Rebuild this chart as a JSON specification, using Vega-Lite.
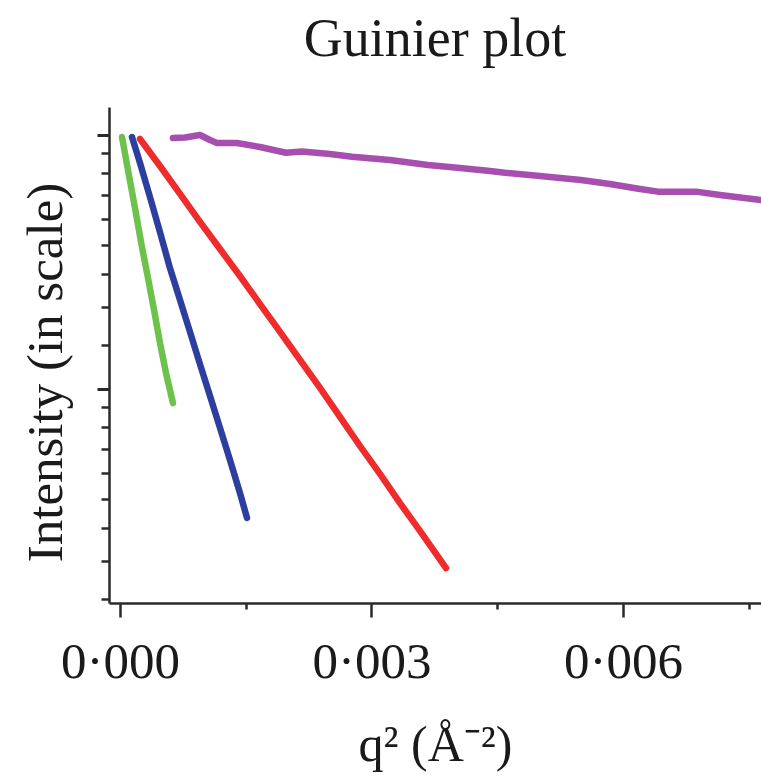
{
  "$schema": "https://vega.github.io/schema/vega-lite/v6.json",
  "width": 652,
  "height": 496,
  "autosize": {"type": "none"},
  "padding": {"left": 109, "top": 107, "right": 0, "bottom": 180},
  "background": "white",
  "config": {"view": {"stroke": null}},
  "title": {
    "text": "Guinier plot",
    "font": "Liberation Serif",
    "fontSize": 54,
    "fontWeight": "normal",
    "color": "#1a1a1a",
    "anchor": "middle",
    "offset": 40
  },
  "data": {
    "values": [
      {"series": "green", "q2": 0.0000239, "intensity": 2.697},
      {"series": "green", "q2": 0.0000954, "intensity": 2.368},
      {"series": "green", "q2": 0.000179, "intensity": 2.039},
      {"series": "green", "q2": 0.000262, "intensity": 1.749},
      {"series": "green", "q2": 0.000334, "intensity": 1.548},
      {"series": "green", "q2": 0.000406, "intensity": 1.365},
      {"series": "green", "q2": 0.000477, "intensity": 1.199},
      {"series": "green", "q2": 0.000549, "intensity": 1.065},
      {"series": "green", "q2": 0.000632, "intensity": 0.946},

      {"series": "blue", "q2": 0.000143, "intensity": 2.697},
      {"series": "blue", "q2": 0.000239, "intensity": 2.435},
      {"series": "blue", "q2": 0.000358, "intensity": 2.129},
      {"series": "blue", "q2": 0.000477, "intensity": 1.855},
      {"series": "blue", "q2": 0.000596, "intensity": 1.610},
      {"series": "blue", "q2": 0.000716, "intensity": 1.420},
      {"series": "blue", "q2": 0.000835, "intensity": 1.252},
      {"series": "blue", "q2": 0.000954, "intensity": 1.103},
      {"series": "blue", "q2": 0.001074, "intensity": 0.973},
      {"series": "blue", "q2": 0.001193, "intensity": 0.858},
      {"series": "blue", "q2": 0.001312, "intensity": 0.756},
      {"series": "blue", "q2": 0.001431, "intensity": 0.664},
      {"series": "blue", "q2": 0.001515, "intensity": 0.602},

      {"series": "red", "q2": 0.000239, "intensity": 2.676},
      {"series": "red", "q2": 0.000477, "intensity": 2.406},
      {"series": "red", "q2": 0.000716, "intensity": 2.155},
      {"series": "red", "q2": 0.000954, "intensity": 1.930},
      {"series": "red", "q2": 0.001193, "intensity": 1.735},
      {"series": "red", "q2": 0.001431, "intensity": 1.560},
      {"series": "red", "q2": 0.001670, "intensity": 1.397},
      {"series": "red", "q2": 0.001909, "intensity": 1.252},
      {"series": "red", "q2": 0.002147, "intensity": 1.121},
      {"series": "red", "q2": 0.002386, "intensity": 1.004},
      {"series": "red", "q2": 0.002624, "intensity": 0.896},
      {"series": "red", "q2": 0.002863, "intensity": 0.799},
      {"series": "red", "q2": 0.003101, "intensity": 0.716},
      {"series": "red", "q2": 0.003340, "intensity": 0.638},
      {"series": "red", "q2": 0.003578, "intensity": 0.572},
      {"series": "red", "q2": 0.003889, "intensity": 0.494},

      {"series": "purple", "q2": 0.000632, "intensity": 2.686},
      {"series": "purple", "q2": 0.000775, "intensity": 2.692},
      {"series": "purple", "q2": 0.000954, "intensity": 2.718},
      {"series": "purple", "q2": 0.001074, "intensity": 2.665},
      {"series": "purple", "q2": 0.001157, "intensity": 2.634},
      {"series": "purple", "q2": 0.001396, "intensity": 2.634},
      {"series": "purple", "q2": 0.001670, "intensity": 2.593},
      {"series": "purple", "q2": 0.001980, "intensity": 2.535},
      {"series": "purple", "q2": 0.002171, "intensity": 2.547},
      {"series": "purple", "q2": 0.002505, "intensity": 2.522},
      {"series": "purple", "q2": 0.002767, "intensity": 2.496},
      {"series": "purple", "q2": 0.003221, "intensity": 2.464},
      {"series": "purple", "q2": 0.003674, "intensity": 2.415},
      {"series": "purple", "q2": 0.004056, "intensity": 2.387},
      {"series": "purple", "q2": 0.004414, "intensity": 2.359},
      {"series": "purple", "q2": 0.004592, "intensity": 2.343},
      {"series": "purple", "q2": 0.005010, "intensity": 2.313},
      {"series": "purple", "q2": 0.005499, "intensity": 2.277},
      {"series": "purple", "q2": 0.005845, "intensity": 2.241},
      {"series": "purple", "q2": 0.006203, "intensity": 2.198},
      {"series": "purple", "q2": 0.006417, "intensity": 2.175},
      {"series": "purple", "q2": 0.006871, "intensity": 2.175},
      {"series": "purple", "q2": 0.007157, "intensity": 2.146},
      {"series": "purple", "q2": 0.007646, "intensity": 2.104}
    ]
  },
  "layer": [
    {
      "mark": {"type": "line", "strokeOpacity": 0, "clip": true},
      "encoding": {
        "x": {
          "field": "q2",
          "type": "quantitative",
          "scale": {"domain": [-0.000131, 0.007646], "nice": false, "zero": false},
          "axis": {
            "orient": "bottom",
            "values": [0.0015, 0.0045, 0.0075],
            "labels": false,
            "domain": false,
            "grid": false,
            "title": null,
            "tickSize": 6,
            "tickWidth": 2.5,
            "tickColor": "#2a2a2a"
          }
        },
        "y": {
          "field": "intensity",
          "type": "quantitative",
          "scale": {"type": "log", "base": 2.718281828459045, "domain": [0.4306, 3.035], "nice": false},
          "axis": {
            "orient": "left",
            "values": [0.438116, 0.508352, 0.578589, 0.648825, 0.719062, 0.789298, 0.859535, 0.929771,
                       1.19092, 1.38184, 1.57276, 1.76368, 1.9546, 2.14552, 2.33644, 2.52736],
            "labels": false,
            "domain": false,
            "grid": false,
            "title": null,
            "tickSize": 8,
            "tickWidth": 2.5,
            "tickColor": "#2a2a2a"
          }
        },
        "detail": {"field": "series"},
        "order": {"field": "q2"}
      }
    },
    {
      "mark": {"type": "line", "clip": true, "strokeCap": "round", "strokeJoin": "round"},
      "encoding": {
        "x": {
          "field": "q2",
          "type": "quantitative",
          "scale": {"domain": [-0.000131, 0.007646], "nice": false, "zero": false},
          "axis": {
            "orient": "bottom",
            "values": [0, 0.003, 0.006],
            "labelExpr": "replace(format(datum.value, '.3f'), '.', '·')",
            "labelFont": "Liberation Serif",
            "labelFontSize": 51,
            "labelColor": "#1a1a1a",
            "labelBaseline": "alphabetic",
            "labelPadding": 60,
            "labelFlush": false,
            "labelOverlap": false,
            "grid": false,
            "tickSize": 14,
            "tickWidth": 2.5,
            "tickColor": "#2a2a2a",
            "domainColor": "#2a2a2a",
            "domainWidth": 2.5,
            "title": "q² (Å⁻²)",
            "titleFont": "Liberation Serif",
            "titleFontSize": 50,
            "titleFontWeight": "normal",
            "titleColor": "#1a1a1a",
            "titleBaseline": "alphabetic",
            "titleY": 157
          }
        },
        "y": {
          "field": "intensity",
          "type": "quantitative",
          "scale": {"type": "log", "base": 2.718281828459045, "domain": [0.4306, 3.035], "nice": false},
          "axis": {
            "orient": "left",
            "values": [1, 2.718281828459045],
            "labels": false,
            "grid": false,
            "tickSize": 12,
            "tickWidth": 3,
            "tickColor": "#2a2a2a",
            "domainColor": "#2a2a2a",
            "domainWidth": 2.5,
            "title": "Intensity (in scale)",
            "titleFont": "Liberation Serif",
            "titleFontSize": 51,
            "titleFontWeight": "normal",
            "titleColor": "#1a1a1a",
            "titleAngle": 270,
            "titleBaseline": "alphabetic",
            "titleX": -48,
            "titleY": 265
          }
        },
        "color": {
          "field": "series",
          "type": "nominal",
          "scale": {"domain": ["green", "blue", "red", "purple"], "range": ["#6cc24a", "#2c3f9f", "#ef2b2b", "#a64fae"]},
          "legend": null
        },
        "strokeWidth": {
          "field": "series",
          "type": "nominal",
          "scale": {"domain": ["green", "blue", "red", "purple"], "range": [6.5, 6.5, 5, 6.5]},
          "legend": null
        },
        "order": {"field": "q2"}
      }
    }
  ],
  "resolve": {"axis": {"x": "independent", "y": "independent"}}
}
